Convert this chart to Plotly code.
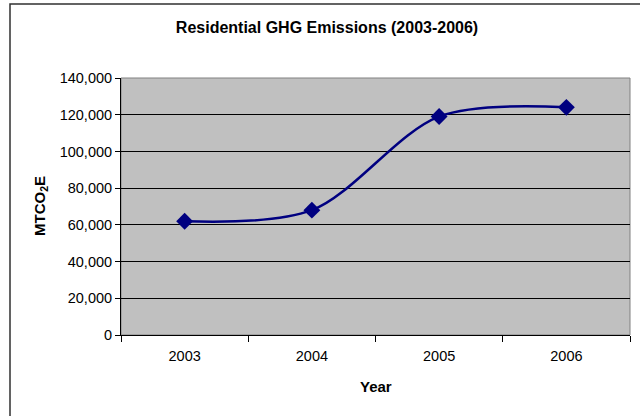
import plotly.graph_objects as go

# Residential GHG emissions by year (metric tons CO2 equivalent)
years = ["2003", "2004", "2005", "2006"]
emissions = [62000, 68000, 119000, 124000]

y_ticks = [0, 20000, 40000, 60000, 80000, 100000, 120000, 140000]
y_tick_labels = ["0", "20,000", "40,000", "60,000", "80,000", "100,000", "120,000", "140,000"]

NAVY = "#000080"
FONT = "Liberation Sans, Arial, sans-serif"

W, H = 640, 416
L, R, T, B = 121, 10, 78, 81
pw, ph = W - L - R, H - T - B


def px_x(x):
    return (x - L) / pw


def px_y(y):
    return (H - B - y) / ph


fig = go.Figure(
    go.Scatter(
        x=years,
        y=emissions,
        mode="lines+markers",
        line=dict(color=NAVY, width=2.5, shape="spline", smoothing=0.9),
        marker=dict(symbol="diamond", size=13, color=NAVY),
        cliponaxis=False,
        showlegend=False,
    )
)

fig.update_layout(
    width=W,
    height=H,
    margin=dict(l=L, r=R, t=T, b=B),
    paper_bgcolor="white",
    plot_bgcolor="#C0C0C0",
    font=dict(family=FONT, size=14.5, color="black"),
    title=dict(
        text="<b>Residential GHG Emissions (2003-2006)</b>",
        x=327 / W,
        xanchor="center",
        y=1 - 27 / H,
        yanchor="middle",
        font=dict(family=FONT, size=16, color="black"),
    ),
    xaxis=dict(
        type="category",
        categoryorder="array",
        categoryarray=years,
        tickson="boundaries",
        ticks="outside",
        ticklen=6,
        tickcolor="black",
        ticklabelstandoff=8,
        showline=True,
        linecolor="black",
        linewidth=1,
        showgrid=False,
        zeroline=False,
        range=[-0.5, 3.5],
        fixedrange=True,
    ),
    yaxis=dict(
        range=[0, 140000],
        tickvals=y_ticks,
        ticktext=y_tick_labels,
        ticks="outside",
        ticklen=5,
        tickcolor="black",
        showline=True,
        linecolor="black",
        linewidth=1,
        showgrid=True,
        gridcolor="black",
        gridwidth=1,
        zeroline=False,
        fixedrange=True,
    ),
    shapes=[
        # plot-area frame (top and right edges visible in grey)
        dict(type="rect", xref="paper", yref="paper", x0=0, x1=1, y0=0, y1=1,
             line=dict(color="#808080", width=1), layer="below"),
        # chart-area border
        dict(type="rect", xref="paper", yref="paper",
             x0=px_x(10), x1=px_x(660), y0=px_y(430), y1=px_y(4),
             line=dict(color="#303030", width=1.5), layer="below"),
    ],
    annotations=[
        dict(text="<b>Year</b>", xref="paper", yref="paper",
             x=px_x(375.5), y=px_y(386), xanchor="center", yanchor="middle",
             showarrow=False, font=dict(family=FONT, size=15, color="black")),
        dict(text="<b>MTCO<sub>2</sub>E</b>", xref="paper", yref="paper",
             x=px_x(40), y=px_y(206), xanchor="center", yanchor="middle",
             textangle=-90, showarrow=False,
             font=dict(family=FONT, size=15, color="black")),
    ],
)

fig.write_html("out.html")
